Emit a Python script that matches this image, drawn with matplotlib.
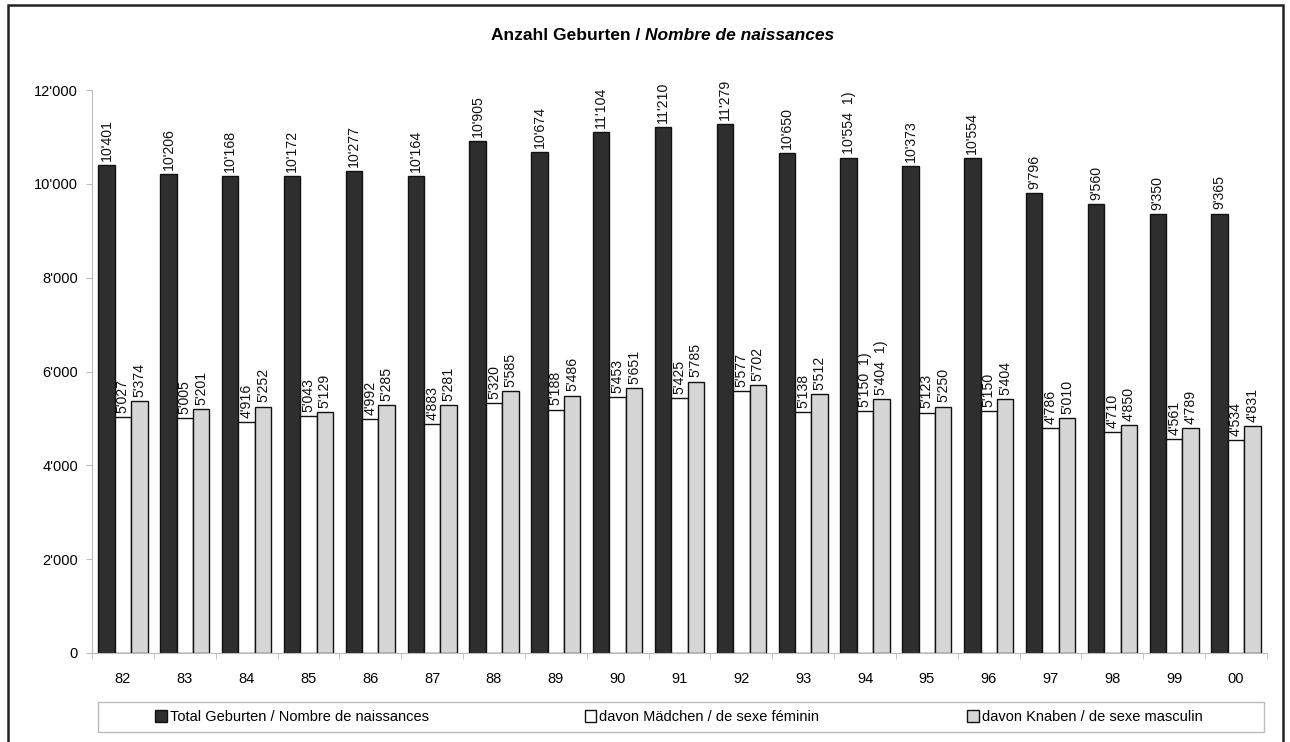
import matplotlib
matplotlib.use("Agg")
import matplotlib.pyplot as plt
from matplotlib.patches import Rectangle, Patch
import numpy as np

plt.rcParams['font.family'] = ['Liberation Sans', 'DejaVu Sans']

# data
years = ["82", "83", "84", "85", "86", "87", "88", "89", "90", "91",
         "92", "93", "94", "95", "96", "97", "98", "99", "00"]
total = [10401, 10206, 10168, 10172, 10277, 10164, 10905, 10674, 11104, 11210,
         11279, 10650, 10554, 10373, 10554, 9796, 9560, 9350, 9365]
girls = [5027, 5005, 4916, 5043, 4992, 4883, 5320, 5188, 5453, 5425,
         5577, 5138, 5150, 5123, 5150, 4786, 4710, 4561, 4534]
boys = [5374, 5201, 5252, 5129, 5285, 5281, 5585, 5486, 5651, 5785,
        5702, 5512, 5404, 5250, 5404, 5010, 4850, 4789, 4831]
notes = ["", "", "", "", "", "", "", "", "", "",
         "", "", "1)", "", "", "", "", "", ""]

series_names = ["Total Geburten / Nombre de naissances",
                "davon Mädchen / de sexe féminin",
                "davon Knaben / de sexe masculin"]
colors = ["#2e2e2e", "#ffffff", "#d6d6d6"]


def fmt(v):
    return f"{v:,}".replace(",", "'")


fig = plt.figure(figsize=(12.9, 7.42), dpi=100)
ax = fig.add_axes([92 / 1290, 1 - 653 / 742, (1267 - 92) / 1290, (653 - 90) / 742])

x = np.arange(len(years))
w = 0.265
for k, (vals, col) in enumerate(zip([total, girls, boys], colors)):
    pos = x + (k - 1) * w
    ax.bar(pos, vals, width=w, color=col, edgecolor="#111111", linewidth=1.0, zorder=2)
    for p, v, n in zip(pos, vals, notes):
        txt = fmt(v) + ("  " + n if n else "")
        ax.text(p, v + 90, txt, rotation=90, ha="center", va="bottom",
                fontsize=10.2, color="#111111")

ax.set_xlim(-0.5, len(years) - 0.5)
ax.set_ylim(0, 12000)
ax.set_yticks(np.arange(0, 12001, 2000))
ax.set_yticklabels([fmt(v) for v in range(0, 12001, 2000)], fontsize=10.5)
ax.set_xticks(x)
ax.set_xticklabels(years, fontsize=10.5)
ax.set_xticks(np.arange(-0.5, len(years), 1), minor=True)
ax.tick_params(axis="x", which="major", length=0, pad=14)
ax.tick_params(axis="x", which="minor", length=4, color="#bbbbbb")
ax.tick_params(axis="y", length=4, color="#bbbbbb", pad=6)
for s in ["top", "right"]:
    ax.spines[s].set_visible(False)
ax.spines["left"].set_color("#bbbbbb")
ax.spines["bottom"].set_color("#bbbbbb")

fig.text(0.5, 1 - 35 / 742, "Anzahl Geburten / ", ha="right", va="center",
         fontsize=12.5, fontweight="bold")
fig.text(0.5, 1 - 35 / 742, "Nombre de naissances", ha="left", va="center",
         fontsize=12.5, fontweight="bold", style="italic")

# legend box and entries
fig.patches.append(Rectangle((98 / 1290, 1 - 732 / 742), (1264 - 98) / 1290, 30 / 742,
                             transform=fig.transFigure, fill=False,
                             edgecolor="#bbbbbb", linewidth=1.0))
centers = [292, 702, 1085]
for name, col, cx in zip(series_names, colors, centers):
    h = Patch(facecolor=col, edgecolor="#111111", linewidth=1.0)
    fig.legend([h], [name], loc="center", bbox_to_anchor=(cx / 1290, 1 - 717 / 742),
               frameon=False, fontsize=10.5, handlelength=0.8, handleheight=0.8,
               handletextpad=0.2, borderpad=0)

# outer frame
fig.patches.append(Rectangle((8 / 1290, -0.02), (1283 - 8) / 1290, 1.02 - 5 / 742,
                             transform=fig.transFigure, fill=False,
                             edgecolor="#222222", linewidth=1.8))

fig.savefig("out.png", dpi=100)
